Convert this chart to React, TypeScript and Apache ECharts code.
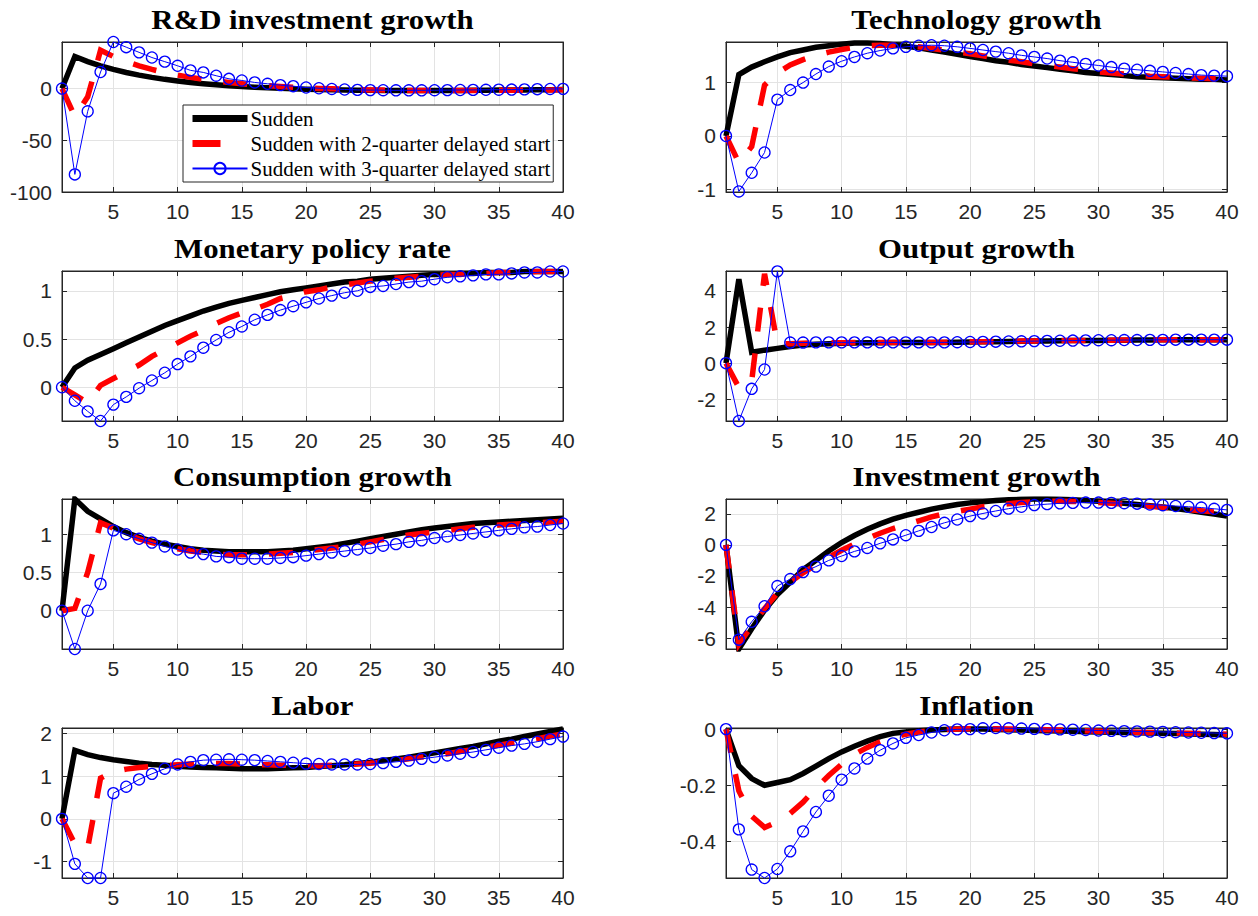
import React, { useEffect, useRef } from "react";
import * as echarts from "echarts";

const periods = [1, 2, 3, 4, 5, 6, 7, 8, 9, 10, 11, 12, 13, 14, 15, 16, 17, 18, 19, 20, 21, 22, 23, 24, 25, 26, 27, 28, 29, 30, 31, 32, 33, 34, 35, 36, 37, 38, 39, 40];
const xTicks = [5, 10, 15, 20, 25, 30, 35, 40];
const seriesNames = ["Sudden", "Sudden with 2-quarter delayed start", "Sudden with 3-quarter delayed start"];

// R&D investment growth
const rdSudden = [0, 31, 26, 22, 18.5, 15.5, 13, 10.8, 8.9, 7.3, 5.9, 4.7, 3.7, 2.8, 2.0, 1.3, 0.7, 0.2, -0.2, -0.6, -0.9, -1.2, -1.4, -1.6, -1.7, -1.8, -1.9, -1.9, -1.9, -1.9, -1.8, -1.8, -1.7, -1.6, -1.5, -1.4, -1.3, -1.2, -1.1, -1.0];
const rdDelay2 = [0, -27, -8, 37, 31, 26, 22, 18.5, 15.5, 13, 10.8, 8.9, 7.3, 5.9, 4.7, 3.6, 2.7, 1.9, 1.2, 0.6, 0.1, -0.3, -0.7, -1.0, -1.3, -1.5, -1.7, -1.8, -1.9, -1.9, -1.9, -1.9, -1.8, -1.8, -1.7, -1.6, -1.5, -1.4, -1.3, -1.2];
const rdDelay3 = [0, -83, -22, 16, 45, 40, 35, 30, 26, 22, 17.6, 15.6, 12.4, 9.4, 7.8, 5.9, 4.6, 3.3, 2.3, 1.0, 0.3, -0.4, -0.9, -1.3, -1.5, -1.6, -1.7, -1.7, -1.7, -1.6, -1.5, -1.4, -1.3, -1.2, -1.1, -1.0, -0.8, -0.6, -0.4, -0.3];
const rdTicks = [-100, -50, 0];

// Technology growth
const techSudden = [0, 1.15, 1.29, 1.39, 1.48, 1.56, 1.61, 1.66, 1.69, 1.72, 1.74, 1.74, 1.73, 1.71, 1.68, 1.65, 1.61, 1.57, 1.53, 1.49, 1.45, 1.41, 1.38, 1.34, 1.31, 1.28, 1.25, 1.22, 1.19, 1.17, 1.15, 1.13, 1.11, 1.1, 1.09, 1.08, 1.07, 1.06, 1.06, 1.05];
const techDelay2 = [0, -0.5, -0.2, 0.95, 1.18, 1.33, 1.43, 1.51, 1.57, 1.62, 1.66, 1.69, 1.7, 1.7, 1.69, 1.67, 1.64, 1.61, 1.57, 1.54, 1.5, 1.46, 1.42, 1.39, 1.35, 1.32, 1.29, 1.26, 1.23, 1.2, 1.18, 1.16, 1.14, 1.12, 1.11, 1.1, 1.09, 1.08, 1.07, 1.07];
const techDelay3 = [0, -1.04, -0.69, -0.31, 0.68, 0.86, 1.0, 1.16, 1.3, 1.4, 1.48, 1.55, 1.6, 1.64, 1.67, 1.69, 1.7, 1.69, 1.67, 1.64, 1.61, 1.58, 1.55, 1.51, 1.48, 1.45, 1.41, 1.38, 1.35, 1.32, 1.29, 1.26, 1.24, 1.22, 1.2, 1.18, 1.16, 1.14, 1.13, 1.12];
const techTicks = [-1, 0, 1];

// Monetary policy rate
const mprSudden = [0, 0.2, 0.28, 0.34, 0.4, 0.46, 0.52, 0.58, 0.64, 0.69, 0.74, 0.79, 0.83, 0.87, 0.9, 0.93, 0.96, 0.99, 1.01, 1.03, 1.05, 1.07, 1.09, 1.1, 1.12, 1.13, 1.14, 1.15, 1.16, 1.17, 1.17, 1.18, 1.18, 1.19, 1.19, 1.19, 1.2, 1.2, 1.2, 1.2];
const mprDelay2 = [0, -0.08, -0.16, 0.02, 0.09, 0.16, 0.23, 0.32, 0.39, 0.46, 0.53, 0.59, 0.66, 0.72, 0.77, 0.81, 0.86, 0.92, 0.95, 0.99, 1.01, 1.04, 1.06, 1.08, 1.1, 1.11, 1.13, 1.14, 1.15, 1.16, 1.17, 1.17, 1.18, 1.18, 1.19, 1.19, 1.19, 1.2, 1.2, 1.2];
const mprDelay3 = [0, -0.14, -0.25, -0.35, -0.18, -0.1, -0.01, 0.07, 0.15, 0.24, 0.32, 0.41, 0.49, 0.57, 0.63, 0.7, 0.75, 0.8, 0.84, 0.88, 0.92, 0.95, 0.98, 1.0, 1.04, 1.05, 1.07, 1.09, 1.1, 1.12, 1.14, 1.15, 1.16, 1.17, 1.17, 1.18, 1.19, 1.19, 1.2, 1.2];
const mprTicks = [0, 0.5, 1];

// Output growth
const outSudden = [0, 4.65, 0.6, 0.72, 0.82, 0.92, 1.0, 1.05, 1.08, 1.1, 1.12, 1.13, 1.13, 1.14, 1.14, 1.14, 1.15, 1.15, 1.16, 1.17, 1.18, 1.19, 1.2, 1.21, 1.22, 1.23, 1.24, 1.25, 1.26, 1.26, 1.27, 1.27, 1.28, 1.28, 1.29, 1.29, 1.29, 1.3, 1.3, 1.3];
const outDelay2 = [0, -1.35, -1.0, 4.95, 1.05, 1.08, 1.1, 1.12, 1.13, 1.13, 1.14, 1.14, 1.14, 1.14, 1.15, 1.15, 1.15, 1.16, 1.17, 1.18, 1.19, 1.2, 1.21, 1.22, 1.23, 1.24, 1.25, 1.26, 1.26, 1.27, 1.27, 1.28, 1.28, 1.29, 1.29, 1.29, 1.3, 1.3, 1.3, 1.3];
const outDelay3 = [0, -3.2, -1.42, -0.35, 5.08, 1.14, 1.14, 1.15, 1.15, 1.15, 1.15, 1.15, 1.15, 1.15, 1.15, 1.15, 1.15, 1.15, 1.16, 1.17, 1.18, 1.19, 1.2, 1.21, 1.22, 1.23, 1.24, 1.25, 1.26, 1.27, 1.27, 1.28, 1.28, 1.29, 1.29, 1.3, 1.3, 1.3, 1.3, 1.3];
const outTicks = [-2, 0, 2, 4];

// Consumption growth
const conSudden = [0, 1.46, 1.3, 1.2, 1.1, 1.02, 0.96, 0.91, 0.87, 0.84, 0.81, 0.79, 0.78, 0.77, 0.77, 0.77, 0.77, 0.78, 0.79, 0.81, 0.83, 0.85, 0.88, 0.91, 0.94, 0.97, 1.0, 1.03, 1.06, 1.08, 1.1, 1.12, 1.14, 1.15, 1.16, 1.17, 1.18, 1.19, 1.2, 1.21];
const conDelay2 = [0, 0.03, 0.5, 1.15, 1.08, 1.0, 0.94, 0.89, 0.85, 0.81, 0.78, 0.76, 0.74, 0.73, 0.73, 0.73, 0.74, 0.75, 0.76, 0.78, 0.8, 0.82, 0.84, 0.87, 0.9, 0.93, 0.96, 0.99, 1.01, 1.03, 1.05, 1.07, 1.09, 1.1, 1.12, 1.13, 1.14, 1.15, 1.16, 1.17];
const conDelay3 = [0, -0.5, 0.0, 0.35, 1.05, 1.0, 0.94, 0.89, 0.84, 0.8, 0.76, 0.74, 0.71, 0.7, 0.68, 0.68, 0.68, 0.69, 0.7, 0.72, 0.74, 0.76, 0.78, 0.8, 0.82, 0.85, 0.87, 0.9, 0.92, 0.95, 0.97, 0.99, 1.01, 1.03, 1.05, 1.07, 1.09, 1.1, 1.12, 1.14];
const conTicks = [0, 0.5, 1];

// Investment growth
const invSudden = [0, -6.7, -5.4, -4.2, -3.2, -2.4, -1.6, -1.0, -0.4, 0.15, 0.6, 1.0, 1.35, 1.65, 1.9, 2.1, 2.3, 2.45, 2.6, 2.7, 2.78, 2.85, 2.9, 2.93, 2.95, 2.95, 2.93, 2.9, 2.86, 2.81, 2.75, 2.68, 2.6, 2.52, 2.43, 2.33, 2.22, 2.1, 1.98, 1.85];
const invDelay2 = [0, -6.4, -5.2, -4.1, -3.1, -2.4, -1.8, -1.3, -0.8, -0.35, 0.05, 0.4, 0.75, 1.05, 1.3, 1.55, 1.8, 2.0, 2.15, 2.3, 2.45, 2.55, 2.65, 2.72, 2.77, 2.8, 2.8, 2.79, 2.76, 2.72, 2.67, 2.62, 2.56, 2.49, 2.42, 2.35, 2.27, 2.2, 2.12, 2.05];
const invDelay3 = [0, -6.1, -4.95, -3.95, -2.65, -2.2, -1.75, -1.4, -1.0, -0.72, -0.42, -0.2, 0.1, 0.35, 0.62, 0.9, 1.15, 1.42, 1.63, 1.85, 2.02, 2.18, 2.33, 2.45, 2.56, 2.62, 2.67, 2.7, 2.72, 2.72, 2.7, 2.68, 2.65, 2.6, 2.55, 2.5, 2.45, 2.4, 2.32, 2.25];
const invTicks = [-6, -4, -2, 0, 2];

// Labor
const labSudden = [0, 1.6, 1.5, 1.43, 1.38, 1.34, 1.3, 1.27, 1.25, 1.23, 1.21, 1.2, 1.19, 1.18, 1.17, 1.17, 1.17, 1.18, 1.19, 1.2, 1.22, 1.24, 1.26, 1.29, 1.32, 1.36, 1.4, 1.44, 1.49, 1.54, 1.59, 1.64, 1.69, 1.75, 1.81, 1.86, 1.92, 1.98, 2.04, 2.1];
const labDelay2 = [0, -0.58, -0.68, 0.95, 1.1, 1.16, 1.2, 1.22, 1.24, 1.26, 1.28, 1.29, 1.29, 1.29, 1.28, 1.27, 1.26, 1.25, 1.25, 1.24, 1.24, 1.25, 1.26, 1.28, 1.3, 1.33, 1.36, 1.4, 1.44, 1.48, 1.52, 1.57, 1.62, 1.67, 1.72, 1.77, 1.82, 1.87, 1.93, 1.98];
const labDelay3 = [0, -1.05, -1.38, -1.38, 0.6, 0.75, 0.92, 1.05, 1.17, 1.27, 1.33, 1.37, 1.38, 1.39, 1.38, 1.37, 1.35, 1.33, 1.31, 1.29, 1.28, 1.27, 1.27, 1.27, 1.28, 1.3, 1.33, 1.36, 1.4, 1.44, 1.48, 1.52, 1.56, 1.61, 1.66, 1.71, 1.75, 1.8, 1.86, 1.92];
const labTicks = [-1, 0, 1, 2];

// Inflation
const infSudden = [0, -0.13, -0.176, -0.2, -0.19, -0.18, -0.158, -0.132, -0.105, -0.081, -0.061, -0.043, -0.027, -0.015, -0.01, -0.006, -0.003, -0.001, 0, 0, 0, -0.001, -0.002, -0.003, -0.005, -0.006, -0.007, -0.008, -0.009, -0.01, -0.011, -0.012, -0.013, -0.014, -0.015, -0.016, -0.017, -0.018, -0.019, -0.021];
const infDelay2 = [0, -0.22, -0.31, -0.35, -0.33, -0.3, -0.26, -0.21, -0.165, -0.125, -0.09, -0.065, -0.045, -0.03, -0.018, -0.01, -0.005, -0.002, 0, 0.001, 0.001, 0.001, 0, 0, -0.001, -0.002, -0.003, -0.005, -0.006, -0.008, -0.009, -0.01, -0.011, -0.012, -0.013, -0.014, -0.015, -0.016, -0.017, -0.018];
const infDelay3 = [0, -0.357, -0.5, -0.53, -0.498, -0.435, -0.364, -0.295, -0.237, -0.18, -0.14, -0.105, -0.075, -0.051, -0.031, -0.021, -0.012, -0.004, -0.001, 0.0, 0.003, 0.004, 0.003, 0.002, 0.001, 0, -0.001, -0.002, -0.003, -0.005, -0.006, -0.007, -0.008, -0.009, -0.01, -0.011, -0.012, -0.013, -0.014, -0.015];
const infTicks = [-0.4, -0.2, 0];

const panels = [
  { title: "R&D investment growth", data: [rdSudden, rdDelay2, rdDelay3], yMin: -100, yMax: 45, yTicks: rdTicks, col: 0, row: 0 },
  { title: "Technology growth", data: [techSudden, techDelay2, techDelay3], yMin: -1.05, yMax: 1.76, yTicks: techTicks, col: 1, row: 0 },
  { title: "Monetary policy rate", data: [mprSudden, mprDelay2, mprDelay3], yMin: -0.35, yMax: 1.205, yTicks: mprTicks, col: 0, row: 1 },
  { title: "Output growth", data: [outSudden, outDelay2, outDelay3], yMin: -3.2, yMax: 5.1, yTicks: outTicks, col: 1, row: 1 },
  { title: "Consumption growth", data: [conSudden, conDelay2, conDelay3], yMin: -0.5, yMax: 1.46, yTicks: conTicks, col: 0, row: 2 },
  { title: "Investment growth", data: [invSudden, invDelay2, invDelay3], yMin: -6.7, yMax: 2.95, yTicks: invTicks, col: 1, row: 2 },
  { title: "Labor", data: [labSudden, labDelay2, labDelay3], yMin: -1.38, yMax: 2.12, yTicks: labTicks, col: 0, row: 3 },
  { title: "Inflation", data: [infSudden, infDelay2, infDelay3], yMin: -0.53, yMax: 0.004, yTicks: infTicks, col: 1, row: 3 },
];

const COL_LEFT = [62, 726];
const GRID_W = 501;
const ROW_TOP = [42, 271, 499, 728];
const GRID_H = 150;
const AXIS_COLOR = "#262626";
const GRID_COLOR = "#e3e3e3";
const SANS = "Liberation Sans, Arial, sans-serif";
const SERIF = "Liberation Serif, Times New Roman, serif";

function buildOption() {
  const grid: any[] = [];
  const xAxis: any[] = [];
  const yAxis: any[] = [];
  const series: any[] = [];
  const graphic: any[] = [];

  panels.forEach((p, i) => {
    const left = COL_LEFT[p.col];
    const top = ROW_TOP[p.row];
    grid.push({ left, top, width: GRID_W, height: GRID_H, show: true, borderColor: AXIS_COLOR, borderWidth: 1, backgroundColor: "#fff", containLabel: false });

    const common = {
      type: "value",
      gridIndex: i,
      axisLine: { show: true, onZero: false, lineStyle: { color: AXIS_COLOR, width: 1 } },
    };
    xAxis.push({
      ...common,
      position: "bottom",
      min: 1,
      max: 40,
      axisTick: { show: true, inside: true, length: 5, customValues: xTicks, lineStyle: { color: AXIS_COLOR } },
      axisLabel: { show: true, customValues: xTicks, color: AXIS_COLOR, fontFamily: SANS, fontSize: 21, margin: 9 },
      splitLine: { show: true, lineStyle: { color: GRID_COLOR, width: 1 } },
    });
    xAxis.push({
      ...common,
      position: "top",
      min: 1,
      max: 40,
      axisTick: { show: true, inside: true, length: 5, customValues: xTicks, lineStyle: { color: AXIS_COLOR } },
      axisLabel: { show: false },
      splitLine: { show: false },
    });
    yAxis.push({
      ...common,
      position: "left",
      min: p.yMin,
      max: p.yMax,
      axisTick: { show: true, inside: true, length: 5, customValues: p.yTicks, lineStyle: { color: AXIS_COLOR } },
      axisLabel: { show: true, customValues: p.yTicks, color: AXIS_COLOR, fontFamily: SANS, fontSize: 21, margin: 10 },
      splitLine: { show: true, lineStyle: { color: GRID_COLOR, width: 1 } },
    });
    yAxis.push({
      ...common,
      position: "right",
      min: p.yMin,
      max: p.yMax,
      axisTick: { show: true, inside: true, length: 5, customValues: p.yTicks, lineStyle: { color: AXIS_COLOR } },
      axisLabel: { show: false },
      splitLine: { show: false },
    });

    const xi = 2 * i;
    const yi = 2 * i;
    const pairs = (arr: number[]) => periods.map((x, j) => [x, arr[j]]);
    series.push({
      name: seriesNames[0],
      type: "line",
      xAxisIndex: xi,
      yAxisIndex: yi,
      data: pairs(p.data[0]),
      showSymbol: false,
      symbol: "none",
      lineStyle: { color: "#000000", width: 5.5, cap: "butt", join: "miter" },
      itemStyle: { color: "#000000" },
      z: 2,
    });
    series.push({
      name: seriesNames[1],
      type: "line",
      xAxisIndex: xi,
      yAxisIndex: yi,
      data: pairs(p.data[1]),
      showSymbol: false,
      symbol: "none",
      lineStyle: { color: "#ff0000", width: 5.5, type: [24, 22], cap: "butt", join: "miter" },
      itemStyle: { color: "#ff0000" },
      z: 3,
    });
    series.push({
      name: seriesNames[2],
      type: "line",
      xAxisIndex: xi,
      yAxisIndex: yi,
      data: pairs(p.data[2]),
      symbol: "circle",
      symbolSize: 11,
      showSymbol: true,
      clip: false,
      lineStyle: { color: "#0000ff", width: 1 },
      itemStyle: { color: "rgba(0,0,0,0)", borderColor: "#0000ff", borderWidth: 1.3 },
      z: 4,
    });

    graphic.push({
      type: "text",
      x: left + GRID_W / 2,
      y: top - 22,
      scaleX: 1.14,
      style: {
        text: p.title,
        fill: "#000",
        font: `bold 27px ${SERIF}`,
        textAlign: "center",
        textVerticalAlign: "middle",
      },
    });
  });

  return {
    animation: false,
    backgroundColor: "#ffffff",
    grid,
    xAxis,
    yAxis,
    series,
    graphic,
    legend: {
      show: true,
      data: [
        { name: seriesNames[0], itemStyle: { opacity: 0 }, lineStyle: { width: 7 } },
        { name: seriesNames[1], itemStyle: { opacity: 0 }, lineStyle: { width: 7, type: [28, 40] } },
        { name: seriesNames[2] },
      ],
      orient: "vertical",
      left: 183,
      top: 105,
      itemWidth: 55,
      itemHeight: 14,
      itemGap: 4,
      padding: [3, 3, 3, 6],
      backgroundColor: "#ffffff",
      borderColor: AXIS_COLOR,
      borderWidth: 1,
      selectedMode: false,
      textStyle: { fontFamily: SERIF, fontSize: 21, color: "#000", padding: [0, 0, 0, -2] },
      z: 10,
    },
  };
}

export default function App() {
  const ref = useRef<HTMLDivElement>(null);
  useEffect(() => {
    if (!ref.current) return;
    const chart = echarts.init(ref.current, undefined, { renderer: "svg" });
    chart.setOption(buildOption() as any);
    return () => chart.dispose();
  }, []);
  return (
    <div
      ref={ref}
      style={{ position: "fixed", left: 0, top: 0, width: 1258, height: 916, background: "#fff" }}
    />
  );
}
